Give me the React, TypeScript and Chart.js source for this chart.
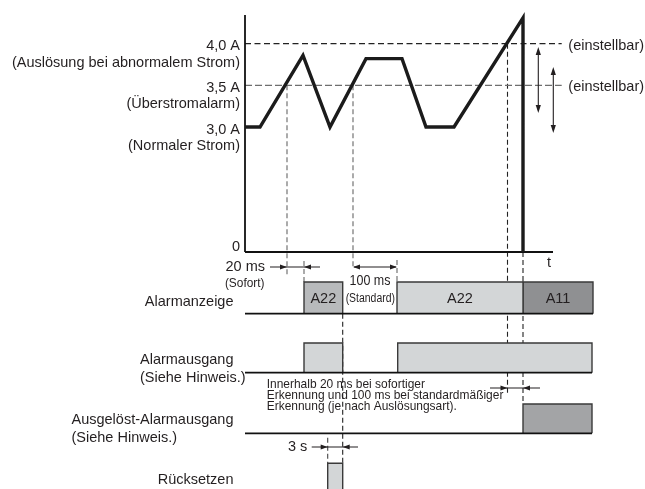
import { useEffect, useRef } from "react";
import { Chart, registerables } from "chart.js";

Chart.register(...registerables);

// ---------- data ----------
// Current waveform (time in arbitrary units, current in A)
const waveTimes = [0, 15, 58, 85, 121, 157, 181, 209, 278, 278];
const waveAmps = [3.0, 3.0, 3.86, 3.0, 3.82, 3.82, 3.0, 3.0, 4.31, 0];

// Y axis ticks (broken axis: 0 ... 3,0 A ... 4,0 A)
const yTickAmps = [4.0, 3.5, 3.0, 0];
const yTickLabels = ["4,0 A", "3,5 A", "3,0 A", "0"];
const yTickNotes = ["(Auslösung bei abnormalem Strom)", "(Überstromalarm)", "(Normaler Strom)", ""];

// thresholds
const tripAmps = 4.0;
const alarmAmps = 3.5;
const thresholdNote = "(einstellbar)";

// event times
const alarmDetect1 = 42;
const alarmOn1 = 59;
const resetStartT = 82.7;
const alarmOff1 = 97.7;
const alarmDetect2 = 108;
const alarmOn2 = 152;
const tripDetect = 262.5;
const tripOn = 278;
const timeEnd = 348;
const axisEnd = 308;

// timing rows
const rowLabels = ["Alarmanzeige", "Alarmausgang", "Ausgelöst-Alarmausgang", "Rücksetzen"];
const rowNotes = ["", "(Siehe Hinweis.)", "(Siehe Hinweis.)", ""];

const anzeigeStart = [alarmOn1, alarmOn2, tripOn];
const anzeigeEnd = [alarmOff1, tripOn, timeEnd];
const anzeigeText = ["A22", "A22", "A11"];
const anzeigeColors = ["#b8babc", "#d3d6d7", "#8f9092"];

const ausgangStart = [alarmOn1, alarmOn2 + 0.7];
const ausgangEnd = [alarmOff1, timeEnd - 1];
const ausgeloestStart = [tripOn];
const ausgeloestEnd = [timeEnd - 1];
const resetStart = [resetStartT];
const resetEnd = [alarmOff1];

const noteLines = [
  "Innerhalb 20 ms bei sofortiger",
  "Erkennung und 100 ms bei standardmäßiger",
  "Erkennung (je nach Auslösungsart).",
];
const label20 = "20 ms";
const labelSofort = "(Sofort)";
const label100 = "100 ms";
const labelStandard = "(Standard)";
const label3s = "3 s";
const labelT = "t";

// ---------- layout (scale units) ----------
const X_MIN = -245, X_MAX = 400;
const Y_MIN = -5.688, Y_MAX = 6.048;
const rowAnz = { base: -1.48, top: -0.72 };
const rowAus = { base: -2.897, top: -2.184 };
const rowAusg = { base: -4.351, top: -3.648 };
const rowRes = { base: -5.95, top: -5.071 };

const FONT = '"Liberation Sans", Arial, Helvetica, sans-serif';
const INK = "#231f20";

function lvl(a: number) {
  return a <= 3 ? a : 3 + 2 * (a - 3);
}

type P = { x: number; y: number };

function lineDs(points: P[], color: string, width: number, dash: number[], order: number, fill: any = false, bg = "transparent") {
  return {
    type: "line" as const,
    data: points,
    borderColor: color,
    borderWidth: width,
    borderDash: dash,
    pointRadius: 0,
    pointHoverRadius: 0,
    fill,
    backgroundColor: bg,
    tension: 0,
    order,
    borderCapStyle: "butt",
    borderJoinStyle: "miter",
    clip: false,
  };
}

function barDs(x1: number, x2: number, row: { base: number; top: number }, color: string) {
  return lineDs(
    [
      { x: x1, y: row.base },
      { x: x1, y: row.top },
      { x: x2, y: row.top },
      { x: x2, y: row.base },
    ],
    "#3a3a3a",
    1.4,
    [],
    5,
    { value: row.base },
    color
  );
}

function buildDatasets() {
  const ds: any[] = [];
  // waveform (top)
  ds.push(
    lineDs(
      waveTimes.map((t, i) => ({ x: t, y: lvl(waveAmps[i]) })),
      "#1b1b1b",
      3.4,
      [],
      0
    )
  );
  // axes
  ds.push(lineDs([{ x: 0, y: 0 }, { x: 0, y: 5.69 }], "#111", 1.8, [], 1));
  ds.push(lineDs([{ x: 0, y: 0 }, { x: axisEnd, y: 0 }], "#111", 1.8, [], 1));
  // row baselines
  ds.push(lineDs([{ x: 0, y: rowAnz.base }, { x: timeEnd, y: rowAnz.base }], "#111", 1.8, [], 1));
  ds.push(lineDs([{ x: 0, y: rowAus.base }, { x: timeEnd - 1, y: rowAus.base }], "#111", 1.8, [], 1));
  ds.push(lineDs([{ x: 0, y: rowAusg.base }, { x: timeEnd - 1, y: rowAusg.base }], "#111", 1.8, [], 1));
  // bars
  anzeigeStart.forEach((s, i) => ds.push(barDs(s, anzeigeEnd[i], rowAnz, anzeigeColors[i])));
  ausgangStart.forEach((s, i) => ds.push(barDs(s, ausgangEnd[i], rowAus, "#d3d6d7")));
  ausgeloestStart.forEach((s, i) => ds.push(barDs(s, ausgeloestEnd[i], rowAusg, "#a3a4a6")));
  resetStart.forEach((s, i) => ds.push(barDs(s, resetEnd[i], rowRes, "#d3d6d7")));
  // threshold lines
  ds.push(lineDs([{ x: 0, y: lvl(tripAmps) }, { x: 316.7, y: lvl(tripAmps) }], "#222", 1.1, [6, 3.5], 10));
  ds.push(lineDs([{ x: 0, y: lvl(alarmAmps) }, { x: 316.7, y: lvl(alarmAmps) }], "#6e6e6e", 1.3, [7, 3], 10));
  // vertical guides
  const guide = (t: number, y1: number, y2: number, c: string) =>
    ds.push(lineDs([{ x: t, y: y1 }, { x: t, y: y2 }], c, 1.1, [5, 3], 10));
  guide(alarmDetect1, lvl(alarmAmps), -0.55, "#666");
  guide(alarmOn1, -0.216, rowAnz.top, "#666");
  guide(alarmDetect2, lvl(alarmAmps), -0.384, "#666");
  guide(alarmOn2, -0.19, rowAnz.top, "#666");
  guide(tripDetect, lvl(tripAmps), -3.38, "#222");
  guide(tripOn, 0, rowAusg.top, "#222");
  guide(alarmOff1, rowAnz.base, rowRes.top, "#222");
  guide(resetStartT, -4.46, rowRes.top, "#444");
  return ds;
}

function arrowHead(ctx: CanvasRenderingContext2D, x: number, y: number, dir: string, len = 7, half = 2.6) {
  ctx.beginPath();
  if (dir === "right") {
    ctx.moveTo(x, y);
    ctx.lineTo(x - len, y - half);
    ctx.lineTo(x - len, y + half);
  } else if (dir === "left") {
    ctx.moveTo(x, y);
    ctx.lineTo(x + len, y - half);
    ctx.lineTo(x + len, y + half);
  } else if (dir === "up") {
    ctx.moveTo(x, y);
    ctx.lineTo(x - half, y + len);
    ctx.lineTo(x + half, y + len);
  } else {
    ctx.moveTo(x, y);
    ctx.lineTo(x - half, y - len);
    ctx.lineTo(x + half, y - len);
  }
  ctx.closePath();
  ctx.fill();
}

const annotPlugin = {
  id: "annot",
  afterDatasetsDraw(chart: any) {
    const ctx: CanvasRenderingContext2D = chart.ctx;
    const X = (t: number) => chart.scales.x.getPixelForValue(t);
    const Y = (u: number) => chart.scales.y.getPixelForValue(u);
    ctx.save();
    ctx.fillStyle = INK;
    ctx.strokeStyle = INK;
    ctx.textBaseline = "middle";

    const text = (s: string, x: number, y: number, size: number, align: CanvasTextAlign = "left", sx = 1) => {
      ctx.font = `${size}px ${FONT}`;
      ctx.textAlign = align;
      if (sx === 1) {
        ctx.fillText(s, x, y);
      } else {
        ctx.save();
        ctx.translate(x, y);
        ctx.scale(sx, 1);
        ctx.fillText(s, 0, 0);
        ctx.restore();
      }
    };

    // y tick labels
    yTickAmps.forEach((a, i) => {
      const py = Y(lvl(a));
      if (a === 0) {
        text(yTickLabels[i], X(-5), py - 5, 14.5, "right");
      } else {
        text(yTickLabels[i], X(-5), py + 2.5, 14.5, "right");
        text(yTickNotes[i], X(-5), py + 19, 14.5, "right");
      }
    });

    // einstellbar
    text(thresholdNote, X(323.3), Y(lvl(tripAmps)) + 2.5, 14.5, "left");
    text(thresholdNote, X(323.3), Y(lvl(alarmAmps)) + 1.5, 14.5, "left");

    // t label
    text(labelT, X(304), Y(-0.264), 14.5, "center");

    // vertical adjust arrows
    ctx.lineWidth = 1.1;
    const vArrow = (t: number, u1: number, u2: number) => {
      const x = X(t);
      ctx.beginPath();
      ctx.moveTo(x, Y(u1) + 3);
      ctx.lineTo(x, Y(u2) - 3);
      ctx.stroke();
      arrowHead(ctx, x, Y(u1), "up", 8, 2.6);
      arrowHead(ctx, x, Y(u2), "down", 8, 2.6);
    };
    vArrow(293.3, 4.92, 3.336);
    vArrow(308.3, 4.44, 2.856);

    // horizontal arrows
    const hLine = (t1: number, t2: number, u: number) => {
      ctx.beginPath();
      ctx.moveTo(X(t1), Y(u));
      ctx.lineTo(X(t2), Y(u));
      ctx.stroke();
    };
    // 20 ms
    hLine(25, 75, -0.36);
    arrowHead(ctx, X(alarmDetect1), Y(-0.36), "right");
    arrowHead(ctx, X(alarmOn1), Y(-0.36), "left");
    // 100 ms
    hLine(alarmDetect2 + 1, alarmOn2 - 1, -0.36);
    arrowHead(ctx, X(alarmDetect2), Y(-0.36), "left");
    arrowHead(ctx, X(alarmOn2), Y(-0.36), "right");
    // trip delay
    hLine(245, 295, -3.264);
    arrowHead(ctx, X(tripDetect), Y(-3.264), "right");
    arrowHead(ctx, X(tripOn), Y(-3.264), "left");
    // 3 s
    hLine(66.7, 113, -4.68);
    arrowHead(ctx, X(resetStartT), Y(-4.68), "right");
    arrowHead(ctx, X(alarmOff1), Y(-4.68), "left");

    // arrow labels
    text(label20, X(20), Y(-0.36), 14.5, "right");
    text(labelSofort, X(-0.3), Y(-0.768), 12.5, "center", 0.95);
    text(label100, X((alarmDetect2 + alarmOn2) / 2 - 5), Y(-0.689), 14.5, "center", 0.86);
    text(labelStandard, X((alarmDetect2 + alarmOn2) / 2 - 4.7), Y(-1.128), 12, "center", 0.87);
    text(label3s, X(62.3), Y(-4.68), 14.5, "right");

    // bar texts
    anzeigeText.forEach((s, i) => {
      text(s, X((anzeigeStart[i] + anzeigeEnd[i]) / 2), Y(-1.116), 14.5, "center");
    });

    // row labels
    const rowLabelU = [-1.193, -2.592, -4.032, -5.472];
    const rowNoteU = [0, -3.024, -4.457, 0];
    rowLabels.forEach((s, i) => {
      ctx.font = `14.5px ${FONT}`;
      const w = ctx.measureText(s).width;
      const right = X(-11.5);
      text(s, right, Y(rowLabelU[i]), 14.5, "right");
      if (rowNotes[i]) text(rowNotes[i], right - w, Y(rowNoteU[i]), 14.5, "left");
    });

    // note text
    const noteU = [-3.175, -3.432, -3.696];
    noteLines.forEach((s, i) => text(s, X(21.7), Y(noteU[i]), 13, "left", 0.92));

    ctx.restore();
  },
};

export default function App() {
  const ref = useRef<HTMLCanvasElement | null>(null);
  useEffect(() => {
    if (!ref.current) return;
    const chart = new Chart(ref.current, {
      type: "line",
      data: { datasets: buildDatasets() },
      options: {
        animation: false,
        responsive: false,
        devicePixelRatio: window.devicePixelRatio || 1,
        layout: { padding: 0 },
        plugins: { legend: { display: false }, tooltip: { enabled: false } },
        events: [],
        scales: {
          x: { type: "linear", display: false, min: X_MIN, max: X_MAX },
          y: { type: "linear", display: false, min: Y_MIN, max: Y_MAX },
        },
      },
      plugins: [annotPlugin],
    } as any);
    return () => chart.destroy();
  }, []);
  return (
    <div style={{ position: "fixed", left: 0, top: 0, width: 645, height: 489, background: "#fff" }}>
      <canvas ref={ref} width={645} height={489} style={{ display: "block", width: 645, height: 489 }} />
    </div>
  );
}
